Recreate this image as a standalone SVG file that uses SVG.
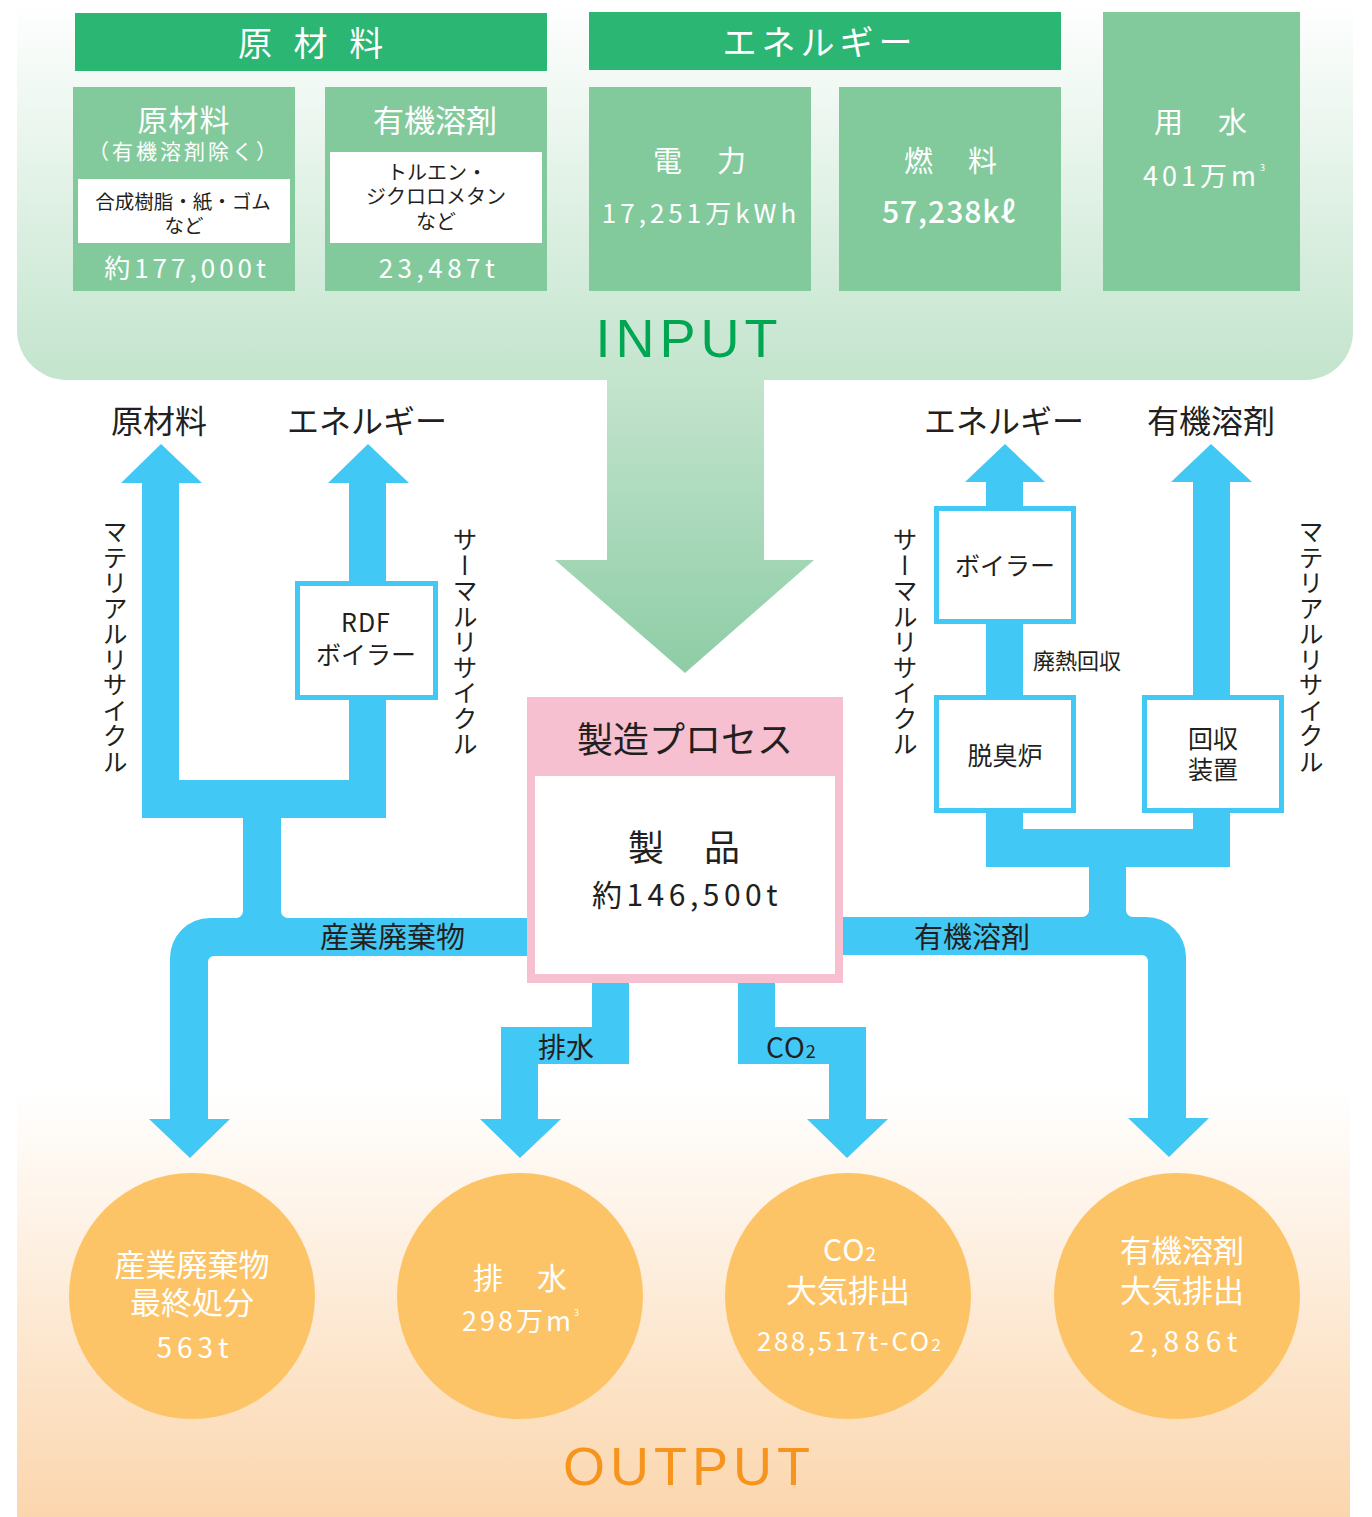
<svg xmlns="http://www.w3.org/2000/svg" width="1372" height="1517" viewBox="0 0 1372 1517">
<defs>
<linearGradient id="gIn" gradientUnits="userSpaceOnUse" x1="0" y1="0" x2="0" y2="673">
<stop offset="0" stop-color="#ffffff"/>
<stop offset="0.565" stop-color="#c3e4cd"/>
<stop offset="1" stop-color="#8ecda6"/>
</linearGradient>
<linearGradient id="gOut" gradientUnits="userSpaceOnUse" x1="0" y1="1090" x2="0" y2="1517">
<stop offset="0" stop-color="#ffffff"/>
<stop offset="1" stop-color="#fbd6ad"/>
</linearGradient>
<style>
.jp{font-family:'Noto Sans CJK JP','Noto Sans',sans-serif;}
.w{fill:#ffffff;}
.k{fill:#231f20;}
.hdr{fill:#2bb673;}
.box{fill:#82ca9c;}
.blue{fill:#42c8f4;}
.bbox{fill:#ffffff;stroke:#42c8f4;stroke-width:5;}
.circ{fill:#fdc467;}
.mid{text-anchor:middle;}
.vert{writing-mode:vertical-rl;}
.en{font-family:'Liberation Sans',Arial,sans-serif;}
</style>
</defs>

<rect width="1372" height="1517" fill="#ffffff"/>

<g id="input-panel">
<path d="M17,0 H1353 V332 A48,48 0 0 1 1305,380 H67 A50,50 0 0 1 17,330 Z" fill="url(#gIn)"/>
<path d="M607,379 H764 V560 H814 L685,673 L555,560 H607 Z" fill="url(#gIn)"/>
<text class="en mid" x="689" y="357" font-size="54" letter-spacing="5" fill="#00a651">INPUT</text>
</g>

<g id="output-panel">
<rect x="17" y="1090" width="1333" height="427" fill="url(#gOut)"/>
<text class="en mid" x="689" y="1485" font-size="54" letter-spacing="5" fill="#f7941d">OUTPUT</text>
</g>

<g id="hdr-raw">
<rect class="hdr" x="75" y="13" width="472" height="58"/>
<text class="jp w" x="238" y="56" font-size="34" letter-spacing="7">原 材 料</text>
</g>
<g id="hdr-energy">
<rect class="hdr" x="589" y="12" width="472" height="58"/>
<text class="jp w mid" x="820" y="55" font-size="34" letter-spacing="5">エネルギー</text>
</g>

<g id="box-raw">
<rect class="box" x="73" y="87" width="222" height="204"/>
<rect x="78" y="179" width="212" height="64" fill="#ffffff"/>
<text class="jp w mid"><tspan x="184" y="131" font-size="30" letter-spacing="1">原材料</tspan><tspan x="184" y="159" font-size="21" letter-spacing="3">（有機溶剤除く）</tspan></text>
<text class="jp k mid" font-size="19.5"><tspan x="183" y="209">合成樹脂・紙・ゴム</tspan><tspan x="184" y="233">など</tspan></text>
<text class="jp w mid" x="187" y="278" font-size="26" letter-spacing="4">約177,000t</text>
</g>

<g id="box-solvent">
<rect class="box" x="325" y="87" width="222" height="204"/>
<rect x="330" y="152" width="212" height="91" fill="#ffffff"/>
<text class="jp w mid" x="435" y="132" font-size="31">有機溶剤</text>
<text class="jp k mid" font-size="20"><tspan x="437" y="180">トルエン・</tspan><tspan x="436" y="204">ジクロロメタン</tspan><tspan x="436" y="229">など</tspan></text>
<text class="jp w mid" x="439" y="278" font-size="26" letter-spacing="4.5">23,487t</text>
</g>

<g id="box-power">
<rect class="box" x="589" y="87" width="222" height="204"/>
<text class="jp w mid" x="701" y="172" font-size="29" letter-spacing="3">電　力</text>
<text class="jp w mid" x="701" y="223" font-size="26" letter-spacing="4">17,251万kWh</text>
</g>

<g id="box-fuel">
<rect class="box" x="839" y="87" width="222" height="204"/>
<text class="jp w mid" x="952" y="172" font-size="29" letter-spacing="3">燃　料</text>
<text class="jp w mid" x="949" y="223" font-size="30" font-weight="500" letter-spacing="1">57,238kℓ</text>
</g>

<g id="box-water">
<rect class="box" x="1103" y="12" width="197" height="279"/>
<text class="jp w mid" x="1202" y="133" font-size="29" letter-spacing="3">用　水</text>
<text class="jp w" x="1143" y="186" font-size="27" letter-spacing="4">401万m<tspan font-size="9" dy="-15">3</tspan></text>
</g>

<g id="connectors">
<path class="blue" d="M121,483 L161,444 L202,483 H179 V780 H349 V483 H328 L368,444 L409,483 H386 V818 H281 V918 H243 V818 H142 V483 Z"/>
<path class="blue" d="M527,918 H210 A40,40 0 0 0 170,958 V1119 H149 L190,1158 L230,1119 H208 V962 A6,6 0 0 1 214,956 H527 Z"/>
<path class="blue" d="M236,918 H243 V911 A7,7 0 0 1 236,918 Z M281,911 V918 H288 A7,7 0 0 1 281,911 Z"/>
<path class="blue" d="M965,482 L1005,444 L1045,482 H1023 V829 H1193 V482 H1171 L1211,444 L1252,482 H1230 V867 H1126 V918 H1089 V867 H986 V482 Z"/>
<path class="blue" d="M843,917 H1146 A40,40 0 0 1 1186,957 V1118 H1209 L1169,1157 L1128,1118 H1148 V961 A6,6 0 0 0 1142,955 H843 Z"/>
<path class="blue" d="M1082,917 H1089 V910 A7,7 0 0 1 1082,917 Z M1126,910 V917 H1133 A7,7 0 0 1 1126,910 Z"/>
<path class="blue" d="M592,980 H629 V1064 H538 V1119 H561 L520,1158 L480,1119 H501 V1027 H592 Z"/>
<path class="blue" d="M738,980 H775 V1027 H866 V1119 H888 L847,1158 L807,1119 H829 V1064 H738 Z"/>
<text class="jp k" x="538" y="1058" font-size="28">排水</text>
<text class="jp k" x="766" y="1058" font-size="28" letter-spacing="1">CO<tspan font-size="18">2</tspan></text>
<text class="jp k" x="320" y="948" font-size="29">産業廃棄物</text>
<text class="jp k" x="914" y="948" font-size="29">有機溶剤</text>
<text class="jp k" x="1033" y="669" font-size="22">廃熱回収</text>
</g>

<g id="labels-recycle">
<text class="jp k" x="111" y="433" font-size="32">原材料</text>
<text class="jp k" x="287" y="433" font-size="32">エネルギー</text>
<text class="jp k" x="924" y="433" font-size="32">エネルギー</text>
<text class="jp k" x="1147" y="433" font-size="32">有機溶剤</text>
<text class="jp k vert" x="115" y="519" font-size="25" letter-spacing="0.5">マテリアルリサイクル</text>
<text class="jp k vert" x="465" y="527" font-size="25" letter-spacing="0.5">サーマルリサイクル</text>
<text class="jp k vert" x="905" y="527" font-size="25" letter-spacing="0.5">サーマルリサイクル</text>
<text class="jp k vert" x="1311" y="519" font-size="25" letter-spacing="0.5">マテリアルリサイクル</text>
</g>

<g id="node-rdf">
<rect class="bbox" x="297.5" y="583.5" width="138" height="114"/>
<text class="jp k mid" font-size="25"><tspan x="366" y="632" letter-spacing="1">RDF</tspan><tspan x="366" y="664">ボイラー</tspan></text>
</g>
<g id="node-boiler">
<rect class="bbox" x="936.5" y="508.5" width="137" height="113"/>
<text class="jp k mid" x="1005" y="575" font-size="25">ボイラー</text>
</g>
<g id="node-deodor">
<rect class="bbox" x="936.5" y="697.5" width="137" height="113"/>
<text class="jp k mid" x="1005" y="765" font-size="25">脱臭炉</text>
</g>
<g id="node-recovery">
<rect class="bbox" x="1144.5" y="697.5" width="137" height="113"/>
<text class="jp k mid" font-size="25"><tspan x="1213" y="748">回収</tspan><tspan x="1213" y="779">装置</tspan></text>
</g>

<g id="node-process">
<rect x="527" y="697" width="316" height="286" fill="#f7c0d0"/>
<rect x="535" y="776" width="300" height="198" fill="#ffffff"/>
<text class="jp k mid" x="685" y="753" font-size="36">製造プロセス</text>
<text class="jp k mid"><tspan x="685" y="861" font-size="36" letter-spacing="2">製　品</tspan><tspan x="687" y="906" font-size="30" letter-spacing="4.5">約146,500t</tspan></text>
</g>

<g id="out-waste">
<circle class="circ" cx="192" cy="1296" r="123"/>
<text class="jp w mid"><tspan x="192" y="1276" font-size="31">産業廃棄物</tspan><tspan x="192" y="1314" font-size="31">最終処分</tspan><tspan x="195" y="1358" font-size="28" letter-spacing="5">563t</tspan></text>
</g>
<g id="out-water">
<circle class="circ" cx="520" cy="1296" r="123"/>
<text class="jp w mid" x="521" y="1289" font-size="30" letter-spacing="2">排　水</text>
<text class="jp w" x="462" y="1331" font-size="27" letter-spacing="3">298万m<tspan font-size="9" dy="-15">3</tspan></text>
</g>
<g id="out-co2">
<circle class="circ" cx="848" cy="1296" r="123"/>
<text class="jp w mid"><tspan x="850" y="1261" font-size="30" letter-spacing="1">CO<tspan font-size="19">2</tspan></tspan><tspan x="848" y="1302" font-size="31">大気排出</tspan></text>
<text class="jp w" x="757" y="1351" font-size="26" letter-spacing="2.5">288,517t-CO<tspan font-size="17" letter-spacing="0">2</tspan></text>
</g>
<g id="out-solvent">
<circle class="circ" cx="1177" cy="1296" r="123"/>
<text class="jp w mid"><tspan x="1182" y="1262" font-size="31">有機溶剤</tspan><tspan x="1182" y="1302" font-size="31">大気排出</tspan><tspan x="1186" y="1352" font-size="28" letter-spacing="5.5">2,886t</tspan></text>
</g>
</svg>
